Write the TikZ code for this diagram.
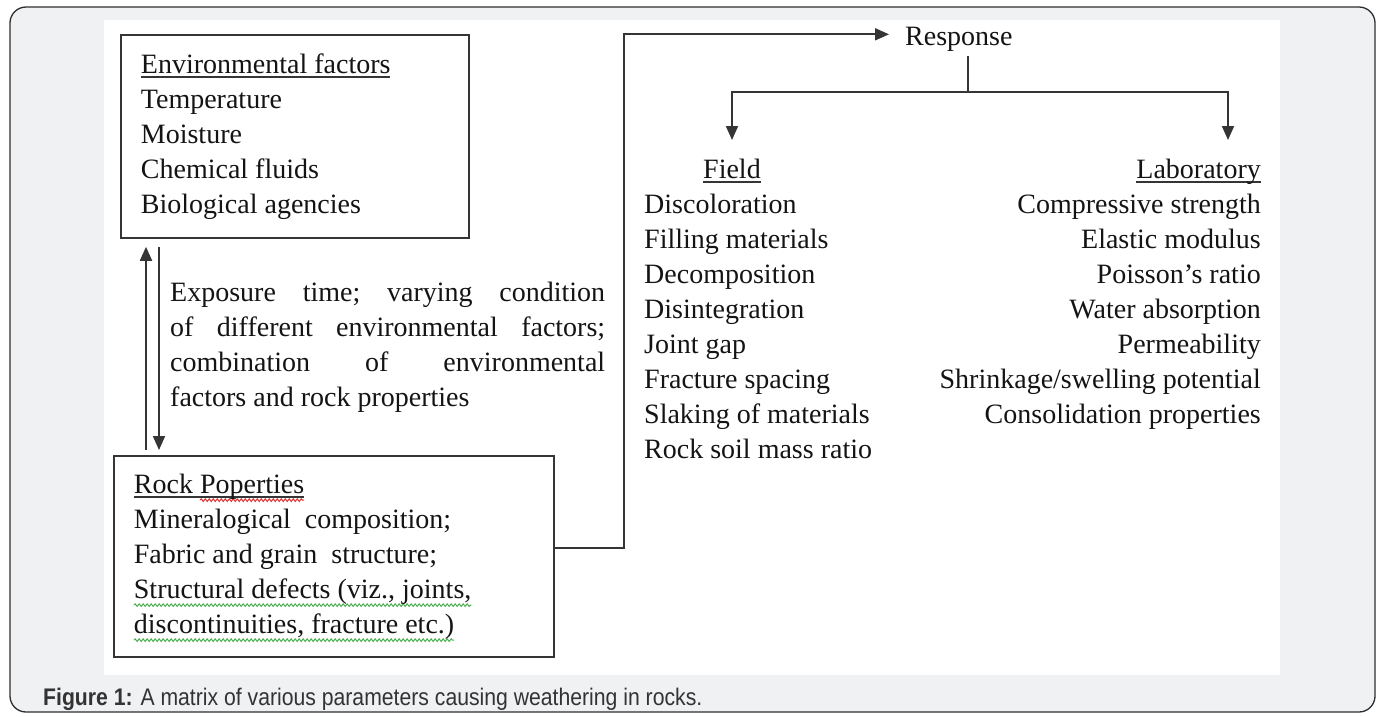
\documentclass[tikz,border=0pt]{standalone}
\usepackage{fontspec}
\setmainfont{Liberation Serif}
\newfontfamily\capfont{Liberation Sans}
\usetikzlibrary{arrows.meta,decorations.pathmorphing}
\definecolor{ink}{HTML}{141414}
\definecolor{linec}{HTML}{353535}
\definecolor{bggray}{HTML}{F0F1F3}
\definecolor{framec}{HTML}{2E2E2E}
\definecolor{capc}{HTML}{333333}
\definecolor{spellred}{HTML}{E03030}
\definecolor{gramgreen}{HTML}{4CAF50}
\newcommand\myul[1]{\leavevmode\setbox0\hbox{#1}\rlap{\color{linec}\rule[-4.5pt]{\wd0}{1.6pt}}\box0}
\newcommand\mywave[2]{\leavevmode\setbox0\hbox{#2}\rlap{\tikz[overlay,x=1pt,y=1pt]\draw[#1,line width=1pt,decorate,decoration={snake,amplitude=1.3pt,segment length=4pt}] (0pt,-7pt) -- (\wd0,-7pt);}\box0}
\newcommand\jline[1]{\leavevmode\hbox to 435pt{#1}}
\tikzset{
  txt/.style={font=\fontsize{28}{35}\selectfont, text=ink, execute at begin node={\spaceskip=0pt\xspaceskip=0pt}},
  boxnode/.style={draw=linec, line width=1.8pt, txt, align=left},
  conn/.style={draw=linec, line width=1.8pt},
  arr/.style={conn, -{Triangle[length=14pt,width=12pt]}},
}
\begin{document}
\begin{tikzpicture}[x=1pt,y=-1pt]
\useasboundingbox (0,0) rectangle (1380,716);
\fill[white] (0,0) rectangle (1380,716);
\draw[draw=framec, fill=bggray, rounded corners=16pt, line width=1.3pt] (10,7) rectangle (1375,712);
\fill[white] (104,20) rectangle (1280,675);

\node[boxnode, anchor=north west, minimum width=348pt, minimum height=203pt, text width=308pt, inner xsep=20pt] (env) at (120,34)
 {\myul{Environmental factors}\\Temperature\\Moisture\\Chemical fluids\\Biological agencies};

\node[boxnode, anchor=north west, minimum width=440pt, minimum height=201pt, text width=400pt, inner xsep=20pt] (rock) at (113,455)
 {\myul{Rock \mywave{spellred}{Poperties}}\\Mineralogical\ \ composition;\\Fabric and grain\ \ structure;\\\mywave{gramgreen}{Structural defects (viz., joints,}\\\mywave{gramgreen}{discontinuities, fracture etc.)}};

\node[txt, anchor=west, inner sep=0pt, text width=435pt, align=left] (expo) at (170,347)
 {\jline{Exposure\hfill time;\hfill varying\hfill condition}\\
  \jline{of\hfill different\hfill environmental\hfill factors;}\\
  \jline{combination\hfill of\hfill environmental}\\
  factors and rock properties};

\node[txt, anchor=base west, inner sep=0pt] (resp) at (905,45) {Response};

\node[txt, anchor=west, inner sep=0pt, align=left] (field) at (644,309)
 {\hspace*{59pt}\myul{Field}\\Discoloration\\Filling materials\\Decomposition\\Disintegration\\Joint gap\\Fracture spacing\\Slaking of materials\\Rock soil mass ratio};

\coordinate (labx) at (1261,0);
\node[txt, anchor=north east, inner sep=0pt, align=right] (lab) at (field.north -| labx)
 {\myul{Laboratory}\\Compressive strength\\Elastic modulus\\Poisson's ratio\\Water absorption\\Permeability\\Shrinkage/swelling potential\\Consolidation properties};

\coordinate (br) at (968,92);
\coordinate (ftip) at (732,140);
\coordinate (ltip) at (1228,140);

\draw[arr] ([xshift=33pt,yshift=5pt]rock.north west) -- ([xshift=26pt,yshift=-8pt]env.south west);
\draw[arr] ([xshift=39pt,yshift=-8pt]env.south west) -- ([xshift=46pt,yshift=5pt]rock.north west);

\draw[arr, shorten >=16pt] ([yshift=8.5pt]rock.east) -- ++(69,0) |- ([yshift=4.5pt]resp.west);
\draw[conn, shorten <=5pt] (resp.south -| br) -- (br);
\draw[arr] (br) -| (ftip);
\draw[arr] (br) -| (ltip);

\node[anchor=base west, inner sep=0pt, font=\capfont\fontsize{24}{26}\selectfont, text=capc, xscale=0.883, transform shape] (cap) at (43,705)
 {\textbf{Figure 1:} A matrix of various parameters causing weathering in rocks.};
\end{tikzpicture}
\end{document}
